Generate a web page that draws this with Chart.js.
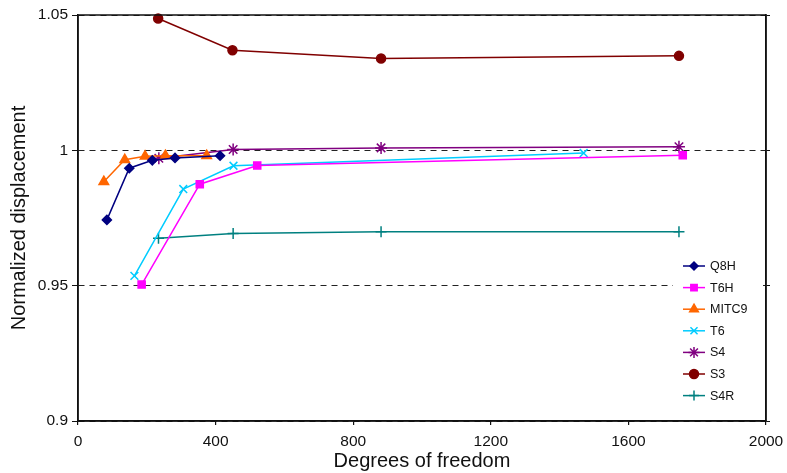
<!DOCTYPE html>
<html>
<head>
<meta charset="utf-8">
<script src="https://cdn.jsdelivr.net/npm/chart.js@4/dist/chart.umd.min.js"></script>
<style>
  html, body { margin: 0; padding: 0; background: #fff; }
  #wrap { width: 787px; height: 473px; position: relative; }
</style>
</head>
<body>
<div id="wrap"><canvas id="c" width="787" height="473"></canvas></div>
<script>
// ---- data ----
const seriesNames = ['Q8H', 'T6H', 'MITC9', 'T6', 'S4', 'S3', 'S4R'];
const q8hX   = [84, 149, 216, 282, 413];
const q8hY   = [0.9743, 0.9934, 0.9963, 0.9972, 0.9980];
const t6hX   = [185, 354, 521, 1758];
const t6hY   = [0.9504, 0.9875, 0.9944, 0.9982];
const mitc9X = [75, 136, 195, 254, 374];
const mitc9Y = [0.9884, 0.9965, 0.9978, 0.9980, 0.9980];
const t6X    = [164, 306, 452, 1470];
const t6Y    = [0.9536, 0.9857, 0.9943, 0.9990];
const s4X    = [235, 451, 881, 1747];
const s4Y    = [0.9971, 1.0003, 1.0009, 1.0013];
const s3X    = [233, 449, 881, 1747];
const s3Y    = [1.0487, 1.0370, 1.0339, 1.0349];
const s4rX   = [234, 451, 881, 1747];
const s4rY   = [0.9675, 0.9693, 0.9699, 0.9699];
const xTicks = [0, 400, 800, 1200, 1600, 2000];
const yTicks = [0.9, 0.95, 1, 1.05];

const FONT = "'Liberation Sans', Arial, Helvetica, sans-serif";

function pts(xs, ys) { return xs.map((x, i) => ({ x: x, y: ys[i] })); }

const styles = [
  { color: '#000080', pointStyle: 'rectRot', radius: 4.5, leg: 4 },
  { color: '#FF00FF', pointStyle: 'rect', radius: 5, leg: 4.5 },
  { color: '#FF6600', pointStyle: 'triangle', radius: 5.5, leg: 5 },
  { color: '#00CCFF', pointStyle: 'crossRot', radius: 5.5, leg: 5 },
  { color: '#800080', pointStyle: 'star', radius: 6, leg: 5.5 },
  { color: '#800000', pointStyle: 'circle', radius: 4.5, leg: 4.5 },
  { color: '#008080', pointStyle: 'cross', radius: 5.5, leg: 5 }
];
const allData = [pts(q8hX, q8hY), pts(t6hX, t6hY), pts(mitc9X, mitc9Y), pts(t6X, t6Y),
                 pts(s4X, s4Y), pts(s3X, s3Y), pts(s4rX, s4rY)];

const datasets = seriesNames.map((name, i) => ({
  label: name,
  data: allData[i],
  showLine: true,
  borderColor: styles[i].color,
  backgroundColor: styles[i].color,
  borderWidth: 1.5,
  pointStyle: styles[i].pointStyle,
  pointRadius: styles[i].radius,
  pointBorderWidth: 1.5,
  pointBorderColor: styles[i].color,
  pointBackgroundColor: styles[i].color,
  tension: 0,
  clip: 8
}));

const boxPlugin = {
  id: 'box',
  afterDraw(chart) {
    const { ctx, chartArea: a } = chart;
    ctx.save();
    ctx.strokeStyle = '#111';
    ctx.lineWidth = 1.5;
    ctx.strokeRect(a.left, a.top, a.right - a.left, a.bottom - a.top);
    ctx.restore();
  }
};

const legendPlugin = {
  id: 'customLegend',
  afterDatasetsDraw(chart) {
    const { ctx } = chart;
    ctx.save();
    // white legend background, hiding the dashed grid line behind it
    ctx.fillStyle = '#fff';
    ctx.fillRect(673, 254, 90, 154);
    const x0 = 683, x1 = 705, tx = 710, y0 = 266, dy = 21.6;
    ctx.font = '12.5px ' + FONT;
    ctx.textBaseline = 'middle';
    ctx.textAlign = 'left';
    seriesNames.forEach((name, i) => {
      const y = y0 + i * dy;
      const s = styles[i];
      ctx.strokeStyle = s.color;
      ctx.fillStyle = s.color;
      ctx.lineWidth = 1.5;
      ctx.beginPath();
      ctx.moveTo(x0, y);
      ctx.lineTo(x1, y);
      ctx.stroke();
      Chart.helpers.drawPoint(ctx, { pointStyle: s.pointStyle, radius: s.leg, rotation: 0, borderWidth: 1.5 }, (x0 + x1) / 2, y);
      ctx.fillStyle = '#111';
      ctx.fillText(name, tx, y + 0.5);
    });
    ctx.restore();
  }
};

function zeroPad(scale) {
  scale.paddingLeft = 0; scale.paddingRight = 0;
  scale.paddingTop = 0; scale.paddingBottom = 0;
}

new Chart(document.getElementById('c'), {
  type: 'scatter',
  data: { datasets },
  options: {
    responsive: false,
    animation: false,
    devicePixelRatio: 1,
    layout: { padding: { top: 15, left: 0, right: 0, bottom: 0 } },
    plugins: { legend: { display: false }, tooltip: { enabled: false } },
    scales: {
      x: {
        type: 'linear',
        min: 0, max: 2000,
        afterBuildTicks(scale) { scale.ticks = xTicks.map(v => ({ value: v })); },
        afterFit(scale) { scale.height = 52; zeroPad(scale); },
        grid: { display: true, drawOnChartArea: false, drawTicks: true, tickLength: 4, color: '#111', lineWidth: 1.2 },
        border: { display: true, color: '#111', width: 1.5 },
        ticks: { color: '#111', font: { family: FONT, size: 15.5 }, padding: 7, maxRotation: 0,
                 callback: v => String(v) },
        title: { display: true, text: 'Degrees of freedom', color: '#111',
                 font: { family: FONT, size: 20 }, padding: { top: 0, bottom: 0 } }
      },
      y: {
        type: 'linear',
        min: 0.9, max: 1.05,
        afterBuildTicks(scale) { scale.ticks = yTicks.map(v => ({ value: v })); },
        afterFit(scale) { scale.width = 78; zeroPad(scale); },
        grid: {
          display: true, drawOnChartArea: true, drawTicks: true, tickLength: 6,
          color: '#222', lineWidth: 1,
          tickColor: '#111'
        },
        border: { display: true, color: '#111', width: 1.5, dash: [6, 5] },
        ticks: { color: '#111', font: { family: FONT, size: 15.5 }, padding: 4,
                 callback: v => String(v) },
        title: { display: true, text: 'Normalized displacement', color: '#111',
                 font: { family: FONT, size: 20 }, padding: { top: 7, bottom: 0 } }
      },
      y2: {
        type: 'linear',
        position: 'right',
        min: 0.9, max: 1.05,
        afterBuildTicks(scale) { scale.ticks = yTicks.map(v => ({ value: v })); },
        afterFit(scale) { scale.width = 21; zeroPad(scale); },
        grid: { display: true, drawOnChartArea: false, drawTicks: true, tickLength: 4, color: '#111' },
        border: { display: true, color: '#111', width: 1.5 },
        ticks: { display: true, callback: () => '' }
      }
    }
  },
  plugins: [legendPlugin, boxPlugin]
});
</script>
</body>
</html>
